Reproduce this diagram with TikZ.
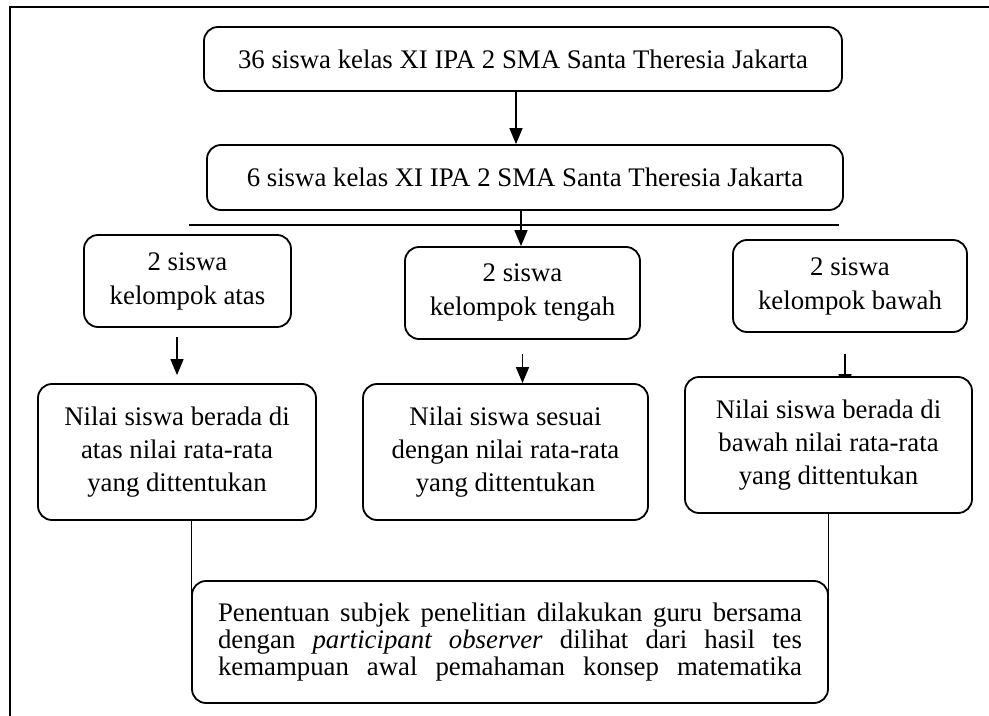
\documentclass[tikz,border=0pt]{standalone}
\usepackage{fontspec}
\setmainfont{Liberation Serif}
\usetikzlibrary{arrows.meta, positioning, backgrounds}

\begin{document}
\begin{tikzpicture}[
  x=0.5pt, y=-0.5pt,
  box/.style={draw, line width=0.9pt, rounded corners=7pt, fill=white, align=center, inner sep=2pt, font=\fontsize{13.4}{17}\selectfont},
  nilbox/.style={box, minimum height=68pt, font=\fontsize{13.4}{16.5}\selectfont},
  arr/.style={-{Triangle[length=8pt, width=6.5pt]}, line width=0.8pt},
  ln/.style={line width=0.6pt}
]
\useasboundingbox (0,0) rectangle (989,716);
\draw[line width=0.8pt] (10,716) -- (10,7) -- (989,7);

\node[box, minimum width=319pt, minimum height=32pt] (top36) at (523,59) {36 siswa kelas XI IPA 2 SMA Santa Theresia Jakarta};
\node[box, minimum width=318pt, minimum height=32.5pt] (six) at (525,177.5) {6 siswa kelas XI IPA 2 SMA Santa Theresia Jakarta};

\coordinate (barL) at (189,225);
\coordinate (barR) at (839,225);
\draw[line width=0.8pt] (barL) -- (barR);

\node[box, minimum width=103.5pt, minimum height=46pt] (kelA) at (187.5,281) {2 siswa\\kelompok atas};
\node[box, minimum width=117.5pt, minimum height=46pt] (kelB) at (522.5,293) {2 siswa\\kelompok tengah};
\node[box, minimum width=117pt, minimum height=46pt] (kelC) at (850,286) {2 siswa\\kelompok bawah};

\node[nilbox, minimum width=139pt] (nilA) at (177,452) {Nilai siswa berada di\\atas nilai rata-rata\\yang dittentukan};
\node[nilbox, minimum width=142.5pt] (nilB) at (505.5,452) {Nilai siswa sesuai\\dengan nilai rata-rata\\yang dittentukan};
\node[nilbox, minimum width=143.5pt] (nilC) at (828.5,445) {Nilai siswa berada di\\bawah nilai rata-rata\\yang dittentukan};

\node[box, minimum width=318pt, minimum height=61pt, font=\fontsize{13.4}{13.6}\selectfont] (bot) at (510,642) {%
  \makebox[292pt][s]{Penentuan subjek penelitian dilakukan guru bersama}\\
  \makebox[292pt][s]{dengan \textit{participant observer} dilihat dari hasil tes}\\
  \makebox[292pt][s]{kemampuan awal pemahaman konsep matematika}};

\draw[arr] ([xshift=-3.5pt]top36.south) -- ([xshift=-3.5pt]top36.south |- six.north);
\draw[arr] ([xshift=-2pt]six.south) -- ([xshift=-2pt]six.south |- kelB.north);

\draw[arr, shorten <=4.5pt, shorten >=4pt] (kelA.south -| nilA.north) -- (nilA.north);
\draw[arr, shorten <=7pt] (kelB.south) -- (kelB.south |- nilB.north);
\begin{scope}[on background layer]
  \draw[arr, shorten <=10.5pt, shorten >=-7pt] ([xshift=-2.5pt]kelC.south) -- ([xshift=-2.5pt]kelC.south |- nilC.north);
\end{scope}

\draw[ln] (nilA.south -| bot.west) -- (bot.west);
\draw[ln] (nilC.south) -- (nilC.south |- bot.east);
\end{tikzpicture}
\end{document}
